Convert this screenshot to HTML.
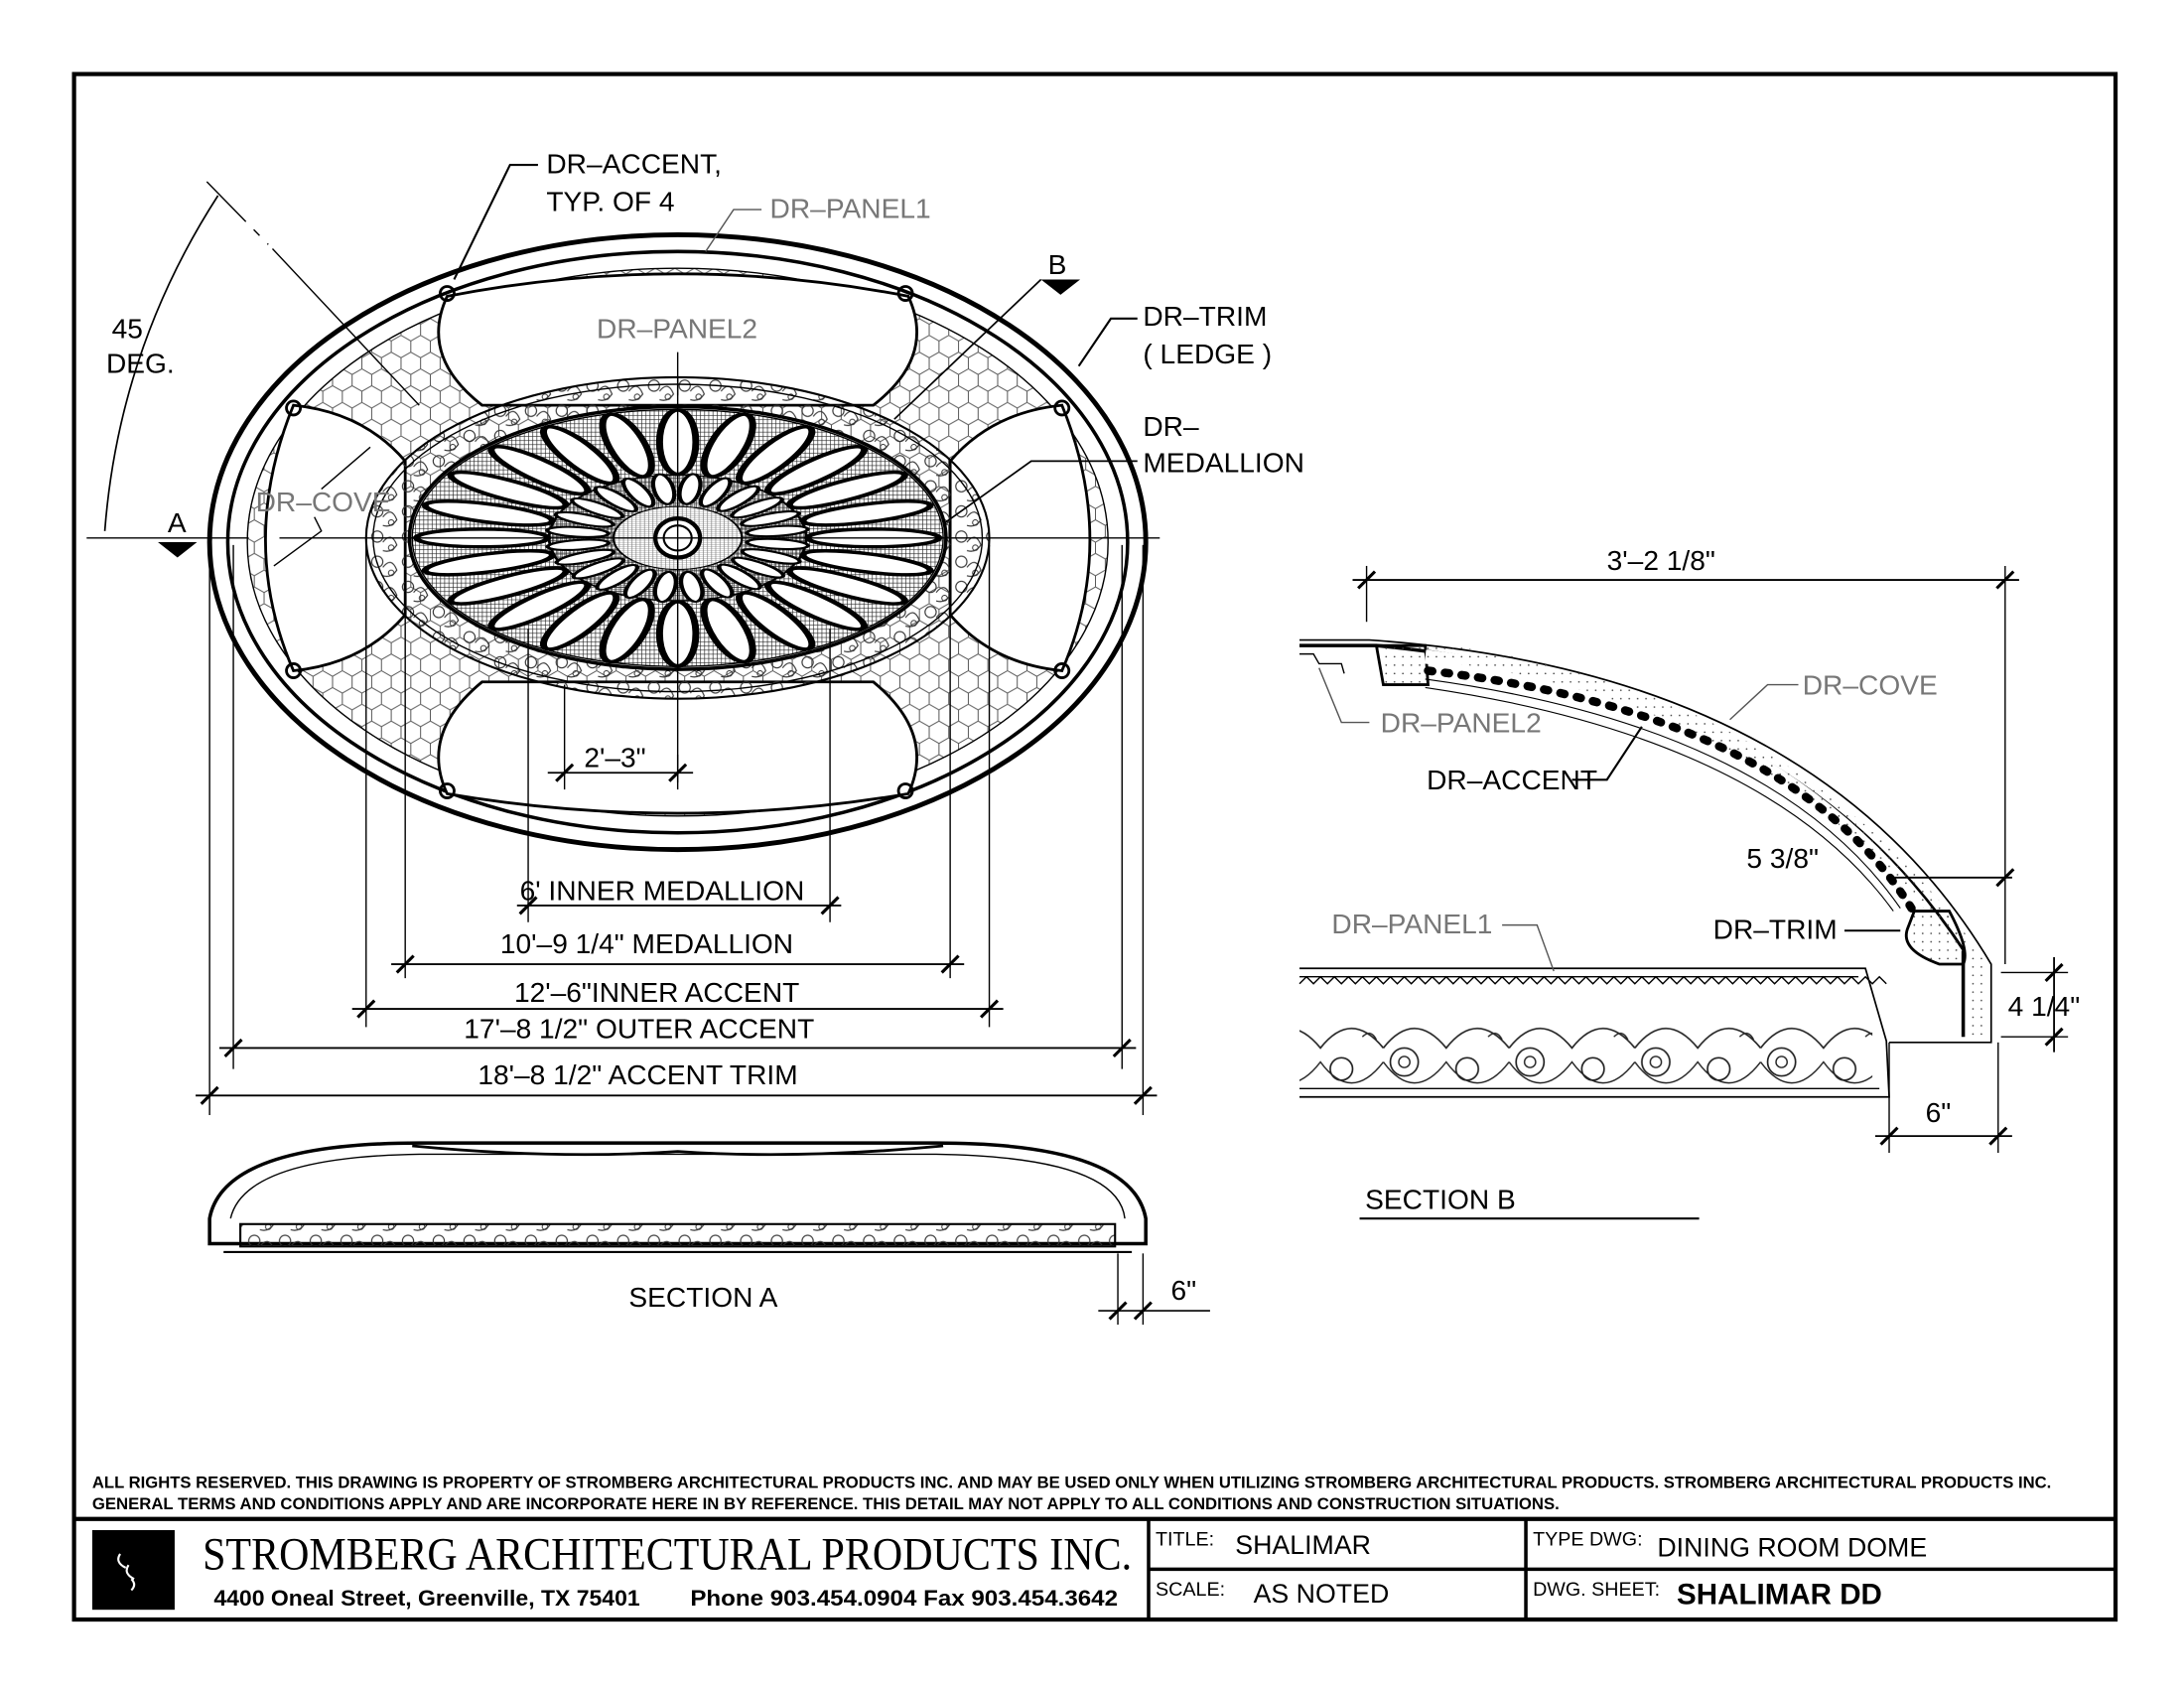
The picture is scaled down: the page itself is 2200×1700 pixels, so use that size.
<!DOCTYPE html>
<html><head><meta charset="utf-8"><style>
html,body{margin:0;padding:0;background:#fff}
svg{display:block}
text{font-family:"Liberation Sans",sans-serif}
.t{font-size:20px;fill:#000}
.g{font-size:20px;fill:#777}
</style></head><body>
<svg width="2200" height="1700" viewBox="0 0 1563 1208" preserveAspectRatio="none" xmlns="http://www.w3.org/2000/svg">
<defs>
<pattern id="hex" width="14" height="24" patternUnits="userSpaceOnUse">
<path d="M0 4 L7 0 L14 4 L14 12 L7 16 L0 12 Z M7 16 L7 24" fill="none" stroke="#555" stroke-width="0.7"/>
</pattern>
<pattern id="mesh" width="3" height="3" patternUnits="userSpaceOnUse">
<path d="M0 0 H3 M0 0 V3" stroke="#222" stroke-width="0.9"/>
</pattern>
<pattern id="orn" width="22" height="18" patternUnits="userSpaceOnUse">
<circle cx="6" cy="6" r="4" fill="none" stroke="#333" stroke-width="0.8"/>
<path d="M10 10 q6 -8 10 2 q-4 6 -10 4" fill="none" stroke="#333" stroke-width="0.8"/>
<circle cx="16" cy="14" r="2" fill="none" stroke="#333" stroke-width="0.7"/>
</pattern>
<pattern id="frieze" width="90" height="90" patternUnits="userSpaceOnUse">
<path d="M0 30 q22 -28 45 0 q22 -28 45 0" fill="none" stroke="#222" stroke-width="1.2"/>
<path d="M0 40 q22 30 45 0 q22 30 45 0" fill="none" stroke="#222" stroke-width="1"/>
<circle cx="15" cy="40" r="10" fill="none" stroke="#222" stroke-width="1.2"/>
<circle cx="15" cy="40" r="4" fill="none" stroke="#222"/>
<circle cx="60" cy="45" r="8" fill="none" stroke="#222" stroke-width="1.2"/>
<path d="M35 70 q8 -8 14 0 q-7 8 -14 0 M75 22 q6 -6 10 2" fill="none" stroke="#222"/>
</pattern>
<pattern id="dots" width="6" height="6" patternUnits="userSpaceOnUse"><circle cx="2" cy="2" r="0.6" fill="#444"/></pattern>
</defs>

<rect x="53" y="53" width="1461" height="1106" fill="none" stroke="#000" stroke-width="3"/>
<line x1="53" y1="1087" x2="1514" y2="1087" stroke="#000" stroke-width="3"/>
<text x="66" y="1065" style="font-size:11.5px;font-weight:bold" textLength="1402" lengthAdjust="spacingAndGlyphs">ALL RIGHTS RESERVED. THIS DRAWING IS PROPERTY OF STROMBERG ARCHITECTURAL PRODUCTS INC. AND MAY BE USED ONLY WHEN UTILIZING STROMBERG ARCHITECTURAL PRODUCTS.  STROMBERG ARCHITECTURAL PRODUCTS INC.</text>
<text x="66" y="1080" style="font-size:11.5px;font-weight:bold" textLength="1050" lengthAdjust="spacingAndGlyphs">GENERAL TERMS AND CONDITIONS APPLY AND ARE INCORPORATE HERE IN BY REFERENCE.  THIS DETAIL MAY NOT APPLY TO ALL CONDITIONS AND CONSTRUCTION SITUATIONS.</text>
<rect x="66" y="1095" width="59" height="57" fill="#000"/>
<path d="M86 1112 q-4 6 4 10 M92 1120 q-4 6 4 10 M94 1130 q4 4 0 8" stroke="#fff" stroke-width="1.5" fill="none"/>
<text x="145" y="1123" style="font-family:'Liberation Serif',serif;font-size:33px" textLength="665" lengthAdjust="spacingAndGlyphs">STROMBERG ARCHITECTURAL PRODUCTS INC.</text>
<text x="153" y="1149" style="font-size:16px;font-weight:bold" textLength="305" lengthAdjust="spacingAndGlyphs">4400 Oneal Street, Greenville, TX  75401</text>
<text x="494" y="1149" style="font-size:16px;font-weight:bold" textLength="306" lengthAdjust="spacingAndGlyphs">Phone 903.454.0904   Fax 903.454.3642</text>
<line x1="822" y1="1087" x2="822" y2="1159" stroke="#000" stroke-width="2.5"/>
<line x1="1092" y1="1087" x2="1092" y2="1159" stroke="#000" stroke-width="2.5"/>
<line x1="822" y1="1123" x2="1514" y2="1123" stroke="#000" stroke-width="2.5"/>
<text x="827" y="1106" style="font-size:14px">TITLE:</text>
<text x="884" y="1112" style="font-size:19px">SHALIMAR</text>
<text x="827" y="1142" style="font-size:14px">SCALE:</text>
<text x="897" y="1147" style="font-size:19px">AS NOTED</text>
<text x="1097" y="1106" style="font-size:14px">TYPE DWG:</text>
<text x="1186" y="1114" style="font-size:19px">DINING ROOM DOME</text>
<text x="1097" y="1142" style="font-size:14px">DWG. SHEET:</text>
<text x="1200" y="1148" style="font-size:21px;font-weight:bold">SHALIMAR DD</text>

<g fill="none" stroke="#000">
<ellipse cx="485" cy="388" rx="335" ry="220" stroke-width="3.5"/>
<ellipse cx="485" cy="388" rx="322" ry="208" stroke-width="2.5"/>
<ellipse cx="485" cy="388" rx="308" ry="196" fill="url(#hex)" stroke-width="1"/>
<g fill="#fff" stroke-width="2">
<path d="M320 212 Q300 255 345 290 L625 290 Q670 255 650 212 Q485 180 320 212 Z"/>
<path d="M320 568 Q300 525 345 488 L625 488 Q670 525 650 568 Q485 596 320 568 Z"/>
<path d="M210 290 Q260 295 290 330 L290 440 Q260 475 210 480 Q170 388 210 290 Z"/>
<path d="M760 290 Q710 295 680 330 L680 440 Q710 475 760 480 Q800 388 760 290 Z"/>
</g>
<g stroke-width="2"><circle cx="320" cy="210" r="5"/><circle cx="648" cy="210" r="5"/><circle cx="210" cy="292" r="5"/><circle cx="760" cy="292" r="5"/><circle cx="210" cy="480" r="5"/><circle cx="760" cy="480" r="5"/><circle cx="320" cy="566" r="5"/><circle cx="648" cy="566" r="5"/></g>
<ellipse cx="485" cy="385" rx="223" ry="115" fill="url(#orn)" stroke-width="1.5"/>
<ellipse cx="485" cy="385" rx="218" ry="110" stroke-width="1"/>
<ellipse cx="485" cy="385" rx="192" ry="94" fill="#fff" stroke-width="2.5"/>
<ellipse cx="485" cy="385" rx="190" ry="92" fill="url(#mesh)" stroke-width="1"/>
<g transform="translate(485,385) scale(1,0.49)">
<g stroke-width="5" fill="#fff">
<ellipse cx="140" cy="0" rx="47" ry="13" transform="rotate(0)"/><ellipse cx="140" cy="0" rx="47" ry="13" transform="rotate(15)"/><ellipse cx="140" cy="0" rx="47" ry="13" transform="rotate(30)"/><ellipse cx="140" cy="0" rx="47" ry="13" transform="rotate(45)"/><ellipse cx="140" cy="0" rx="47" ry="13" transform="rotate(60)"/><ellipse cx="140" cy="0" rx="47" ry="13" transform="rotate(75)"/><ellipse cx="140" cy="0" rx="47" ry="13" transform="rotate(90)"/><ellipse cx="140" cy="0" rx="47" ry="13" transform="rotate(105)"/><ellipse cx="140" cy="0" rx="47" ry="13" transform="rotate(120)"/><ellipse cx="140" cy="0" rx="47" ry="13" transform="rotate(135)"/><ellipse cx="140" cy="0" rx="47" ry="13" transform="rotate(150)"/><ellipse cx="140" cy="0" rx="47" ry="13" transform="rotate(165)"/><ellipse cx="140" cy="0" rx="47" ry="13" transform="rotate(180)"/><ellipse cx="140" cy="0" rx="47" ry="13" transform="rotate(195)"/><ellipse cx="140" cy="0" rx="47" ry="13" transform="rotate(210)"/><ellipse cx="140" cy="0" rx="47" ry="13" transform="rotate(225)"/><ellipse cx="140" cy="0" rx="47" ry="13" transform="rotate(240)"/><ellipse cx="140" cy="0" rx="47" ry="13" transform="rotate(255)"/><ellipse cx="140" cy="0" rx="47" ry="13" transform="rotate(270)"/><ellipse cx="140" cy="0" rx="47" ry="13" transform="rotate(285)"/><ellipse cx="140" cy="0" rx="47" ry="13" transform="rotate(300)"/><ellipse cx="140" cy="0" rx="47" ry="13" transform="rotate(315)"/><ellipse cx="140" cy="0" rx="47" ry="13" transform="rotate(330)"/><ellipse cx="140" cy="0" rx="47" ry="13" transform="rotate(345)"/>
</g>
<circle r="92" fill="url(#mesh)" stroke-width="2"/>
<g stroke-width="3" fill="#fff">
<ellipse cx="72" cy="0" rx="22" ry="7" transform="rotate(7)"/><ellipse cx="72" cy="0" rx="22" ry="7" transform="rotate(22)"/><ellipse cx="72" cy="0" rx="22" ry="7" transform="rotate(37)"/><ellipse cx="72" cy="0" rx="22" ry="7" transform="rotate(52)"/><ellipse cx="72" cy="0" rx="22" ry="7" transform="rotate(67)"/><ellipse cx="72" cy="0" rx="22" ry="7" transform="rotate(82)"/><ellipse cx="72" cy="0" rx="22" ry="7" transform="rotate(97)"/><ellipse cx="72" cy="0" rx="22" ry="7" transform="rotate(112)"/><ellipse cx="72" cy="0" rx="22" ry="7" transform="rotate(127)"/><ellipse cx="72" cy="0" rx="22" ry="7" transform="rotate(142)"/><ellipse cx="72" cy="0" rx="22" ry="7" transform="rotate(157)"/><ellipse cx="72" cy="0" rx="22" ry="7" transform="rotate(172)"/><ellipse cx="72" cy="0" rx="22" ry="7" transform="rotate(187)"/><ellipse cx="72" cy="0" rx="22" ry="7" transform="rotate(202)"/><ellipse cx="72" cy="0" rx="22" ry="7" transform="rotate(217)"/><ellipse cx="72" cy="0" rx="22" ry="7" transform="rotate(232)"/><ellipse cx="72" cy="0" rx="22" ry="7" transform="rotate(247)"/><ellipse cx="72" cy="0" rx="22" ry="7" transform="rotate(262)"/><ellipse cx="72" cy="0" rx="22" ry="7" transform="rotate(277)"/><ellipse cx="72" cy="0" rx="22" ry="7" transform="rotate(292)"/><ellipse cx="72" cy="0" rx="22" ry="7" transform="rotate(307)"/><ellipse cx="72" cy="0" rx="22" ry="7" transform="rotate(322)"/><ellipse cx="72" cy="0" rx="22" ry="7" transform="rotate(337)"/><ellipse cx="72" cy="0" rx="22" ry="7" transform="rotate(352)"/>
</g>
<circle r="46" fill="#fff" stroke-width="1.5"/>
<circle r="46" fill="url(#mesh)" stroke-width="1.5" opacity="0.6"/>
</g>
<ellipse cx="485" cy="385" rx="16" ry="14" fill="#fff" stroke-width="3"/>
<ellipse cx="485" cy="385" rx="10" ry="9" stroke-width="1.5"/>
</g>
<g stroke="#000" stroke-width="1" fill="none">
<line x1="62" y1="385" x2="178" y2="385"/><line x1="200" y1="385" x2="830" y2="385"/>
<line x1="485" y1="270" x2="485" y2="560"/>
<line x1="148" y1="130" x2="192" y2="175" stroke-dasharray="40 8 6 8"/><line x1="195" y1="178" x2="300" y2="290"/>
<path d="M156 140 Q85 250 75 380" stroke-width="1.2"/>
<line x1="150" y1="390" x2="150" y2="798"/><line x1="818" y1="390" x2="818" y2="798"/>
<line x1="167" y1="390" x2="167" y2="765"/><line x1="803" y1="390" x2="803" y2="765"/>
<line x1="262" y1="390" x2="262" y2="735"/><line x1="708" y1="390" x2="708" y2="735"/>
<line x1="290" y1="390" x2="290" y2="700"/><line x1="680" y1="390" x2="680" y2="700"/>
<line x1="378" y1="450" x2="378" y2="660"/><line x1="594" y1="450" x2="594" y2="660"/>
<line x1="404" y1="490" x2="404" y2="565"/><line x1="485" y1="540" x2="485" y2="565"/>
<line x1="370" y1="648" x2="602" y2="648" stroke-width="1.3"/>
<line x1="280" y1="690" x2="690" y2="690" stroke-width="1.3"/>
<line x1="252" y1="722" x2="718" y2="722" stroke-width="1.3"/>
<line x1="157" y1="750" x2="813" y2="750" stroke-width="1.3"/>
<line x1="140" y1="784" x2="828" y2="784" stroke-width="1.3"/>
<line x1="392" y1="553" x2="496" y2="553" stroke-width="1.3"/>
</g>
<g stroke="#000" stroke-width="2.2">
<path d="M372 654l12-12M588 654l12-12M284 696l12-12M674 696l12-12M256 728l12-12M702 728l12-12M161 756l12-12M797 756l12-12M144 790l12-12M812 790l12-12M398 559l12-12M479 559l12-12"/>
</g>
<g class="t">
<text x="372" y="644" class="t">6' INNER MEDALLION</text>
<text x="358" y="682" class="t">10'–9 1/4" MEDALLION</text>
<text x="368" y="717" class="t">12'–6"INNER ACCENT</text>
<text x="332" y="743" class="t">17'–8 1/2" OUTER ACCENT</text>
<text x="342" y="776" class="t">18'–8 1/2" ACCENT TRIM</text>
<text x="418" y="549" class="t">2'–3"</text>
</g>
<text x="391" y="124" class="t">DR–ACCENT,</text>
<text x="391" y="151" class="t">TYP. OF 4</text>
<path d="M385 118 L365 118 L325 200" fill="none" stroke="#000" stroke-width="1.5"/>
<text x="551" y="156" class="g">DR–PANEL1</text>
<path d="M545 150 L525 150 L505 180" fill="none" stroke="#555" stroke-width="1"/>
<text x="427" y="242" class="g">DR–PANEL2</text>
<line x1="485" y1="252" x2="485" y2="283" stroke="#000"/>
<text x="183" y="366" class="g">DR–COVE</text>
<path d="M196 405 L230 380 L225 370 M230 350 L265 320" fill="none" stroke="#000" stroke-width="1"/>
<text x="80" y="242" class="t">45</text><text x="76" y="267" class="t">DEG.</text>
<text x="750" y="196" class="t">B</text>
<path d="M745 200 L773 200 L759 211 Z" fill="#000"/>
<path d="M745 200 L640 300" stroke="#000" fill="none" stroke-width="1.2"/>
<text x="120" y="381" class="t">A</text>
<path d="M113 388 L141 388 L127 399 Z" fill="#000"/>
<text x="818" y="233" class="t">DR–TRIM</text>
<text x="818" y="260" class="t">( LEDGE )</text>
<path d="M814 228 L795 228 L772 262" fill="none" stroke="#000" stroke-width="1.5"/>
<text x="818" y="312" class="t">DR–</text>
<text x="818" y="338" class="t">MEDALLION</text>
<path d="M814 330 L738 330 L675 375" fill="none" stroke="#000" stroke-width="1.2"/>

<g fill="none" stroke="#000">
<path d="M150 872 Q160 818 300 818 L670 818 Q810 818 820 872 L820 890 L150 890 Z" stroke-width="2.5" fill="#fff"/>
<path d="M165 872 Q175 828 300 826 L670 826 Q800 828 805 872" stroke-width="1"/>
<path d="M295 820 Q400 830 485 824 Q570 830 675 820" stroke-width="2"/>
<rect x="172" y="876" width="626" height="16" fill="url(#orn)" stroke-width="1.5"/>
<line x1="160" y1="896" x2="810" y2="896" stroke-width="1.5"/>
<line x1="800" y1="897" x2="800" y2="948"/><line x1="818" y1="897" x2="818" y2="948"/>
<line x1="786" y1="938" x2="866" y2="938" stroke-width="1.2"/>
<path d="M794 944l12-12M812 944l12-12" stroke-width="2.2"/>
</g>
<text x="838" y="930" class="t">6"</text>
<text x="450" y="935" class="t">SECTION  A</text>

<g fill="none" stroke="#000">
<line x1="968" y1="415" x2="1445" y2="415" stroke-width="1.3"/>
<line x1="978" y1="405" x2="978" y2="445"/>
<line x1="1435" y1="405" x2="1435" y2="690"/>
<path d="M972 421l12-12M1429 421l12-12" stroke-width="2.2"/>
<path d="M930 458 L980 458 Q1300 480 1425 690 L1425 746 L1352 746" stroke-width="1.2"/>
<path d="M930 462 L985 462 Q1280 490 1405 680 L1405 742" stroke-width="2.5"/>
<path d="M985 462 L1020 462 L1022 490 L990 490 Z" fill="url(#dots)" stroke-width="2"/>
<path d="M1020 470 Q1280 500 1400 683" fill="none" stroke-width="10" stroke="#fff"/>
<path d="M1020 466 Q1280 495 1415 690 L1415 742" stroke="url(#dots)" stroke-width="12"/>
<path d="M1022 480 Q1280 510 1368 650" stroke-width="6" stroke-dasharray="3 9" stroke-linecap="round"/>
<path d="M1020 486 Q1270 520 1360 650" stroke-width="0.8"/>
<path d="M1020 492 Q1265 528 1355 652" stroke-width="0.8"/>
<path d="M1370 652 L1395 652 Q1410 680 1405 690 L1388 690 Q1360 680 1365 665 Z" stroke-width="2" fill="url(#dots)"/>
<path d="M930 468 L940 468 L944 475 L960 475 L962 482" stroke-width="1"/>
<path d="M930 693 L1335 693 L1350 745 L1352 785 L930 785" stroke-width="1.2"/>
<line x1="930" y1="699" x2="1330" y2="699" stroke-width="1"/>
<path d="M930 704 l5 -5 l5 5 l5 -5 l5 5 l5 -5 l5 5 l5 -5 l5 5 l5 -5 l5 5 l5 -5 l5 5 l5 -5 l5 5 l5 -5 l5 5 l5 -5 l5 5 l5 -5 l5 5 l5 -5 l5 5 l5 -5 l5 5 l5 -5 l5 5 l5 -5 l5 5 l5 -5 l5 5 l5 -5 l5 5 l5 -5 l5 5 l5 -5 l5 5 l5 -5 l5 5 l5 -5 l5 5 l5 -5 l5 5 l5 -5 l5 5 l5 -5 l5 5 l5 -5 l5 5 l5 -5 l5 5 l5 -5 l5 5 l5 -5 l5 5 l5 -5 l5 5 l5 -5 l5 5 l5 -5 l5 5 l5 -5 l5 5 l5 -5 l5 5 l5 -5 l5 5 l5 -5 l5 5 l5 -5 l5 5 l5 -5 l5 5 l5 -5 l5 5 l5 -5 l5 5 l5 -5 l5 5 l5 -5 l5 5 l5 -5 l5 5 l5 -5 l5 5" stroke-width="1"/>
<rect x="930" y="706" width="410" height="70" fill="url(#frieze)" stroke="none"/>
<line x1="930" y1="779" x2="1345" y2="779"/>
<line x1="1352" y1="746" x2="1352" y2="825"/><line x1="1430" y1="746" x2="1430" y2="825"/>
<line x1="1342" y1="813" x2="1440" y2="813" stroke-width="1.3"/>
<path d="M1346 819l12-12M1424 819l12-12" stroke-width="2.2"/>
<line x1="1355" y1="628" x2="1440" y2="628" stroke-width="1.3"/>
<path d="M1429 634l12-12" stroke-width="2.2"/>
<line x1="1432" y1="696" x2="1480" y2="696"/><line x1="1432" y1="742" x2="1480" y2="742"/>
<line x1="1470" y1="685" x2="1470" y2="753" stroke-width="1.3"/>
<path d="M1464 702l12-12M1464 748l12-12" stroke-width="2.2"/>
<path d="M1287 490 L1265 490 L1238 515" stroke="#555"/>
<path d="M980 517 L960 517 L944 478" stroke="#555"/>
<path d="M1125 558 L1150 558 L1175 520" stroke-width="1.5"/>
<path d="M1320 666 L1360 666" stroke-width="1.5"/>
<path d="M1075 662 L1100 662 L1112 695" stroke="#555"/>
</g>
<text x="1150" y="408" class="t">3'–2 1/8"</text>
<text x="1290" y="497" class="g">DR–COVE</text>
<text x="988" y="524" class="g">DR–PANEL2</text>
<text x="1021" y="565" class="t">DR–ACCENT</text>
<text x="1250" y="621" class="t">5 3/8"</text>
<text x="953" y="668" class="g">DR–PANEL1</text>
<text x="1226" y="672" class="t">DR–TRIM</text>
<text x="1437" y="727" class="t">4 1/4"</text>
<text x="1378" y="803" class="t">6"</text>
<text x="977" y="865" class="t">SECTION  B</text>
<line x1="973" y1="872" x2="1216" y2="872" stroke="#000" stroke-width="1.5"/>
</svg>
</body></html>
